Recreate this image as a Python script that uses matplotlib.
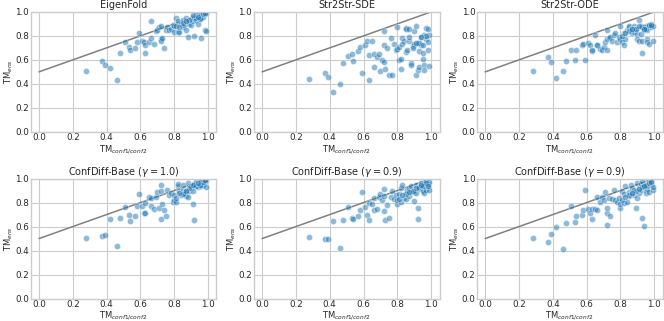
import numpy as np
import matplotlib
matplotlib.use("Agg")
import matplotlib.pyplot as plt

# TM-score between the two reference conformations (shared by all panels)
tm_conf = [0.28, 0.37, 0.39, 0.42, 0.46, 0.48, 0.51, 0.53, 0.54, 0.57,
           0.58, 0.59, 0.61, 0.62, 0.63, 0.63, 0.65, 0.66, 0.66, 0.68,
           0.69, 0.70, 0.71, 0.72, 0.72, 0.72, 0.73, 0.74, 0.75, 0.76,
           0.77, 0.78, 0.79, 0.80, 0.80, 0.81, 0.82, 0.82, 0.83, 0.84,
           0.85, 0.85, 0.86, 0.87, 0.87, 0.88, 0.88, 0.89, 0.90, 0.90,
           0.91, 0.91, 0.92, 0.92, 0.93, 0.93, 0.94, 0.94, 0.95, 0.95,
           0.96, 0.96, 0.96, 0.97, 0.97, 0.98, 0.98, 0.99, 0.99, 0.85,
           0.89, 0.93, 0.95, 0.97, 0.81, 0.83, 0.87, 0.91, 0.94, 0.98]

tm_eigenfold = [0.51, 0.59, 0.56, 0.53, 0.43, 0.66, 0.75, 0.71, 0.68, 0.70,
                0.75, 0.82, 0.76, 0.75, 0.72, 0.66, 0.75, 0.78, 0.92, 0.73,
                0.84, 0.85, 0.87, 0.88, 0.77, 0.76, 0.78, 0.70, 0.85, 0.87,
                0.85, 0.86, 0.89, 0.83, 0.88, 0.95, 0.92, 0.83, 0.83, 0.90,
                0.87, 0.93, 0.89, 0.95, 0.85, 0.79, 0.92, 0.90, 0.94, 0.89,
                0.96, 0.92, 0.80, 0.95, 0.93, 0.97, 0.90, 0.98, 0.95, 0.97,
                0.78, 0.97, 0.95, 0.99, 0.96, 0.85, 0.98, 0.84, 0.99, 0.91,
                0.93, 0.95, 0.94, 0.98, 0.88, 0.87, 0.92, 0.97, 0.96, 0.99]

tm_sde = [0.44, 0.49, 0.455, 0.33, 0.40, 0.57, 0.63, 0.65, 0.59, 0.67,
          0.71, 0.49, 0.725, 0.755, 0.64, 0.43, 0.76, 0.645, 0.54, 0.62,
          0.645, 0.51, 0.60, 0.72, 0.84, 0.58, 0.525, 0.70, 0.475, 0.78,
          0.475, 0.735, 0.68, 0.875, 0.69, 0.595, 0.52, 0.61, 0.78, 0.755,
          0.865, 0.665, 0.685, 0.755, 0.79, 0.57, 0.56, 0.715, 0.84, 0.73,
          0.88, 0.47, 0.74, 0.515, 0.54, 0.67, 0.79, 0.72, 0.66, 0.61,
          0.56, 0.515, 0.81, 0.77, 0.865, 0.745, 0.685, 0.81, 0.545, 0.86,
          0.70, 0.74, 0.72, 0.80, 0.71, 0.73, 0.86, 0.74, 0.79, 0.86]

tm_ode = [0.51, 0.625, 0.58, 0.445, 0.51, 0.59, 0.68, 0.60, 0.68, 0.72,
          0.735, 0.60, 0.74, 0.72, 0.67, 0.68, 0.81, 0.72, 0.72, 0.69,
          0.68, 0.71, 0.745, 0.77, 0.68, 0.845, 0.78, 0.79, 0.755, 0.81,
          0.825, 0.745, 0.79, 0.88, 0.77, 0.745, 0.825, 0.725, 0.77, 0.85,
          0.87, 0.885, 0.86, 0.825, 0.85, 0.88, 0.83, 0.855, 0.815, 0.77,
          0.76, 0.93, 0.88, 0.815, 0.76, 0.655, 0.87, 0.85, 0.88, 0.875,
          0.77, 0.85, 0.745, 0.73, 0.88, 0.90, 0.87, 0.755, 0.88, 0.84,
          0.86, 0.87, 0.86, 0.89, 0.80, 0.82, 0.86, 0.88, 0.86, 0.89]

tm_confdiff_10 = [0.504, 0.518, 0.526, 0.66, 0.44, 0.67, 0.76, 0.70, 0.65, 0.69,
                  0.77, 0.875, 0.77, 0.715, 0.715, 0.80, 0.845, 0.77, 0.837, 0.75,
                  0.848, 0.886, 0.756, 0.945, 0.897, 0.66, 0.79, 0.74, 0.69, 0.909,
                  0.867, 0.88, 0.806, 0.825, 0.867, 0.803, 0.936, 0.958, 0.895, 0.867,
                  0.909, 0.947, 0.88, 0.895, 0.859, 0.964, 0.848, 0.895, 0.925, 0.942,
                  0.90, 0.784, 0.656, 0.956, 0.95, 0.97, 0.928, 0.942, 0.98, 0.95,
                  0.97, 0.936, 0.98, 0.96, 0.95, 0.98, 0.97, 0.93, 0.985, 0.87,
                  0.92, 0.94, 0.95, 0.97, 0.84, 0.88, 0.90, 0.95, 0.96, 0.99]

tm_confdiff_09a = [0.51, 0.50, 0.496, 0.643, 0.42, 0.654, 0.76, 0.668, 0.66, 0.69,
                   0.742, 0.89, 0.76, 0.70, 0.656, 0.80, 0.787, 0.742, 0.84, 0.747,
                   0.848, 0.873, 0.825, 0.917, 0.853, 0.73, 0.656, 0.776, 0.673, 0.848,
                   0.895, 0.83, 0.867, 0.792, 0.82, 0.873, 0.922, 0.803, 0.95, 0.84,
                   0.83, 0.88, 0.909, 0.853, 0.922, 0.892, 0.942, 0.90, 0.81, 0.889,
                   0.95, 0.88, 0.756, 0.66, 0.914, 0.92, 0.958, 0.964, 0.909, 0.895,
                   0.942, 0.88, 0.964, 0.909, 0.978, 0.936, 0.958, 0.909, 0.97, 0.87,
                   0.90, 0.93, 0.94, 0.96, 0.83, 0.86, 0.89, 0.92, 0.95, 0.94]

tm_confdiff_09b = [0.507, 0.47, 0.54, 0.596, 0.413, 0.629, 0.77, 0.637, 0.692, 0.70,
                   0.742, 0.909, 0.75, 0.709, 0.66, 0.75, 0.75, 0.848, 0.734, 0.803,
                   0.848, 0.82, 0.892, 0.714, 0.756, 0.612, 0.84, 0.69, 0.83, 0.903,
                   0.825, 0.806, 0.84, 0.756, 0.79, 0.895, 0.873, 0.795, 0.936, 0.806,
                   0.853, 0.889, 0.95, 0.878, 0.92, 0.867, 0.903, 0.756, 0.964, 0.84,
                   0.878, 0.92, 0.958, 0.909, 0.978, 0.673, 0.604, 0.942, 0.909, 0.878,
                   0.958, 0.914, 0.936, 0.986, 0.892, 0.95, 0.978, 0.903, 0.93, 0.86,
                   0.90, 0.93, 0.95, 0.96, 0.82, 0.85, 0.88, 0.91, 0.94, 0.97]

titles = ["EigenFold", "Str2Str-SDE", "Str2Str-ODE",
          r"ConfDiff-Base ($\gamma=1.0$)", r"ConfDiff-Base ($\gamma=0.9$)",
          r"ConfDiff-Base ($\gamma=0.9$)"]
series = [tm_eigenfold, tm_sde, tm_ode,
          tm_confdiff_10, tm_confdiff_09a, tm_confdiff_09b]

plt.style.use("seaborn-v0_8-whitegrid")
plt.rcParams["font.family"] = ["DejaVu Sans"]

fig, axes = plt.subplots(2, 3, figsize=(6.64, 3.21), dpi=100)
plt.subplots_adjust(left=0.046, right=0.998, bottom=0.07, top=0.963,
                    wspace=0.2, hspace=0.39)

ref = np.linspace(0, 1, 50)
for ax, title, y in zip(axes.flat, titles, series):
    ax.plot(ref, 0.5 + 0.5 * ref, color="gray", lw=1.1, zorder=1)
    ax.scatter(tm_conf, y, s=20, color="#1f77b4", alpha=0.5,
               edgecolors="white", linewidths=0.5, zorder=2)
    ax.set_ylim(0, 1)
    ax.set_xlim(-0.05, 1.05)
    ax.set_xticks([0, 0.2, 0.4, 0.6, 0.8, 1.0])
    ax.set_yticks([0, 0.2, 0.4, 0.6, 0.8, 1.0])
    ax.tick_params(labelsize=6.3, pad=1)
    ax.set_title(title, fontsize=7, pad=2.5)
    ax.set_xlabel(r"TM$_{conf1/conf2}$", fontsize=6, labelpad=0.5)
    ax.set_ylabel(r"TM$_{ens}$", fontsize=6, labelpad=0.5)

fig.savefig("out.png", dpi=100)
